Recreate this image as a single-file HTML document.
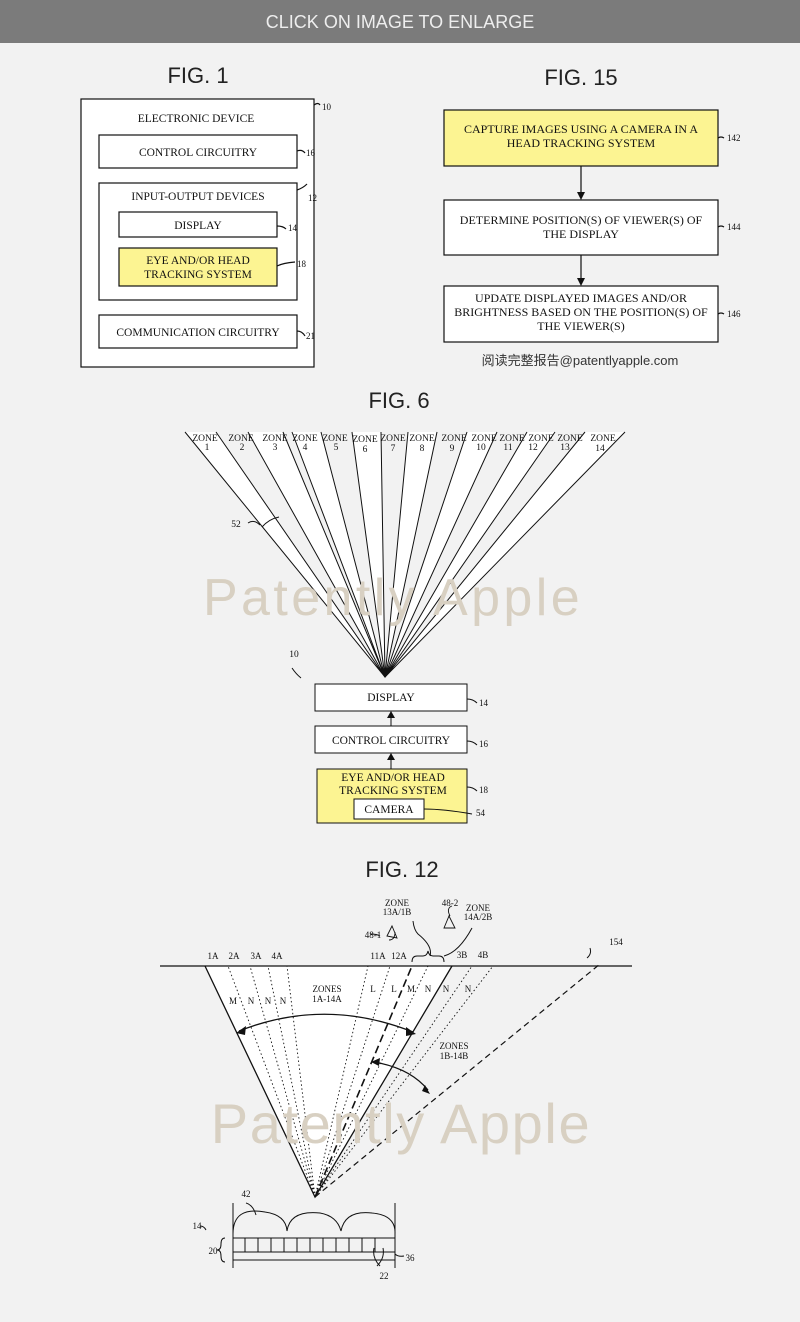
<!DOCTYPE html>
<html><head><meta charset="utf-8"><style>
body{margin:0;background:#f2f2f2;}
svg{display:block}
.s{font-family:"Liberation Serif",serif;font-size:11.5px;fill:#111}
.t{font-family:"Liberation Sans",sans-serif;font-size:22px;fill:#222}
.w{font-family:"Liberation Sans",sans-serif;fill:#d8d0c2}
</style></head><body>
<svg width="800" height="1322" viewBox="0 0 800 1322" xmlns="http://www.w3.org/2000/svg">
<rect x="0" y="0" width="800" height="43" fill="#7b7b7b"/>
<text x="400" y="28" text-anchor="middle" font-family="Liberation Sans,sans-serif" font-size="18" fill="#eee">CLICK ON IMAGE TO ENLARGE</text>
<g stroke="#111" stroke-width="1.2" fill="none">
<rect x="81" y="99" width="233" height="268" fill="#fff"/>
<rect x="99" y="135" width="198" height="33"/>
<rect x="99" y="183" width="198" height="117"/>
<rect x="119" y="212" width="158" height="25"/>
<rect x="119" y="248" width="158" height="38" fill="#fcf492"/>
<rect x="99" y="315" width="198" height="33"/>
<path d="M314 105 q4-3 6 0 M297 151 q5-2 8 2 M297 190 q6-2 10-6 M277 226 q6 0 9 3 M277 266 q6-3 18-4 M297 331 q5 0 8 5"/>
<rect x="444" y="110" width="274" height="56" fill="#fcf492"/>
<rect x="444" y="200" width="274" height="55" fill="#fff"/>
<rect x="444" y="286" width="274" height="56" fill="#fff"/>
<path d="M581 166 V196 M581 255 V282 M718 138 q3-2 6 0 M718 227 q3-2 6 0 M718 314 q3-2 6 0"/>
</g>
<path d="M577 192 L581 200 L585 192Z M577 278 L581 286 L585 278Z" fill="#111"/>
<text class="t" x="198" y="83" text-anchor="middle">FIG. 1</text>
<text class="t" x="581" y="85" text-anchor="middle">FIG. 15</text>
<text class="s" x="196" y="122" text-anchor="middle">ELECTRONIC DEVICE</text>
<text class="s" x="198" y="156" text-anchor="middle">CONTROL CIRCUITRY</text>
<text class="s" x="198" y="200" text-anchor="middle">INPUT-OUTPUT DEVICES</text>
<text class="s" x="198" y="229" text-anchor="middle">DISPLAY</text>
<text class="s" x="198" y="264" text-anchor="middle">EYE AND/OR HEAD</text>
<text class="s" x="198" y="278" text-anchor="middle">TRACKING SYSTEM</text>
<text class="s" x="198" y="336" text-anchor="middle">COMMUNICATION CIRCUITRY</text>
<g class="s"><text x="322" y="110" style="font-size:9px">10</text><text x="306" y="156" style="font-size:9px">16</text><text x="308" y="201" style="font-size:9px">12</text><text x="288" y="231" style="font-size:9px">14</text><text x="297" y="267" style="font-size:9px">18</text><text x="306" y="339" style="font-size:9px">21</text>
<text x="727" y="141" style="font-size:9px">142</text><text x="727" y="230" style="font-size:9px">144</text><text x="727" y="317" style="font-size:9px">146</text></g>
<text class="s" x="581" y="133" text-anchor="middle" style="font-size:12px">CAPTURE IMAGES USING A CAMERA IN A</text>
<text class="s" x="581" y="147" text-anchor="middle" style="font-size:12px">HEAD TRACKING SYSTEM</text>
<text class="s" x="581" y="224" text-anchor="middle" style="font-size:12px">DETERMINE POSITION(S) OF VIEWER(S) OF</text>
<text class="s" x="581" y="238" text-anchor="middle" style="font-size:12px">THE DISPLAY</text>
<text class="s" x="581" y="302" text-anchor="middle" style="font-size:12px">UPDATE DISPLAYED IMAGES AND/OR</text>
<text class="s" x="581" y="316" text-anchor="middle" style="font-size:12px">BRIGHTNESS BASED ON THE POSITION(S) OF</text>
<text class="s" x="581" y="330" text-anchor="middle" style="font-size:12px">THE VIEWER(S)</text>
<text x="580" y="365" text-anchor="middle" font-family="Liberation Sans,Noto Sans CJK SC,sans-serif" font-size="13" fill="#333">阅读完整报告@patentlyapple.com</text>
<text class="t" x="399" y="408" text-anchor="middle">FIG. 6</text>
<g fill="#fff" stroke="none">
<polygon points="385,677 185,432 216,432"/><polygon points="385,677 248,432 283,432"/><polygon points="385,677 292,432 321,432"/><polygon points="385,677 352,432 381,432"/><polygon points="385,677 408,432 437,432"/><polygon points="385,677 467,432 497,432"/><polygon points="385,677 527,432 555,432"/><polygon points="385,677 585,432 625,432"/>
</g>
<g stroke="#111" stroke-width="1" fill="none">
<path d="M385 677 L185 432 M385 677 L216 432 M385 677 L248 432 M385 677 L283 432 M385 677 L292 432 M385 677 L321 432 M385 677 L352 432 M385 677 L381 432 M385 677 L408 432 M385 677 L437 432 M385 677 L467 432 M385 677 L497 432 M385 677 L527 432 M385 677 L555 432 M385 677 L585 432 M385 677 L625 432"/>
<path d="M262 527 q7-8 17-10 M248 523 q6-4 12 2"/>
<rect x="315" y="684" width="152" height="27" fill="#fff"/>
<rect x="315" y="726" width="152" height="27" fill="#fff"/>
<rect x="317" y="769" width="150" height="54" fill="#fcf492"/>
<rect x="354" y="799" width="70" height="20" fill="#fff"/>
<path d="M391 726 V716 M391 769 V758 M467 699 q6 0 10 4 M467 741 q6 0 10 4 M467 787 q6 0 10 4 M424 809 q20 0 48 5 M292 668 q4 6 9 10"/>
</g>
<path d="M387 718 L391 711 L395 718Z M387 760 L391 753 L395 760Z M380 670 L385 678 L391 670Z" fill="#111"/>
<g class="s" style="font-size:9.5px" text-anchor="middle">
<text x="205" y="441">ZONE</text><text x="207" y="450">1</text>
<text x="241" y="441">ZONE</text><text x="242" y="450">2</text>
<text x="275" y="441">ZONE</text><text x="275" y="450">3</text>
<text x="305" y="441">ZONE</text><text x="305" y="450">4</text>
<text x="335" y="441">ZONE</text><text x="336" y="450">5</text>
<text x="365" y="442">ZONE</text><text x="365" y="452">6</text>
<text x="393" y="441">ZONE</text><text x="393" y="451">7</text>
<text x="422" y="441">ZONE</text><text x="422" y="451">8</text>
<text x="454" y="441">ZONE</text><text x="452" y="451">9</text>
<text x="484" y="441">ZONE</text><text x="481" y="450">10</text>
<text x="512" y="441">ZONE</text><text x="508" y="450">11</text>
<text x="541" y="441">ZONE</text><text x="533" y="450">12</text>
<text x="570" y="441">ZONE</text><text x="565" y="450">13</text>
<text x="603" y="441">ZONE</text><text x="600" y="451">14</text>
<text x="236" y="527">52</text><text x="294" y="657">10</text>
</g>
<text class="w" x="393" y="615" text-anchor="middle" font-size="52" letter-spacing="3.4">Patently Apple</text>
<text class="s" x="391" y="701" text-anchor="middle">DISPLAY</text>
<text class="s" x="391" y="744" text-anchor="middle">CONTROL CIRCUITRY</text>
<text class="s" x="393" y="781" text-anchor="middle">EYE AND/OR HEAD</text>
<text class="s" x="393" y="794" text-anchor="middle">TRACKING SYSTEM</text>
<text class="s" x="389" y="813" text-anchor="middle">CAMERA</text>
<g class="s"><text x="479" y="706" style="font-size:9px">14</text><text x="479" y="747" style="font-size:9px">16</text><text x="479" y="793" style="font-size:9px">18</text><text x="476" y="816" style="font-size:9px">54</text></g>
<text class="t" x="402" y="877" text-anchor="middle">FIG. 12</text>
<polygon points="205,966 452,966 315,1197" fill="#fff"/>
<g stroke="#111" fill="none">
<path d="M160 966 H632" stroke-width="1.2"/>
<path d="M205 966 L315 1197 L452 966" stroke-width="1.3"/>
<path d="M315 1197 L600 964" stroke-width="1.2" stroke-dasharray="6,4"/>
<path d="M315 1197 L412 966" stroke-width="1.6" stroke-dasharray="8,4"/>
<g stroke-width="0.9" stroke-dasharray="1.5,2.5">
<path d="M315 1197 L228 966 M315 1197 L250 966 M315 1197 L268 966 M315 1197 L287 966 M315 1197 L368 966 M315 1197 L390 966 M315 1197 L428 966 M315 1197 L472 966 M315 1197 L493 966"/>
</g>
<path d="M239 1031 Q325 997 413 1032" stroke-width="1.3"/>
<path d="M374 1062 Q410 1068 428 1090" stroke-width="1.3"/>
<path d="M412 962 q0-6 5-6 h6 q4 0 5-5 q1 5 5 5 h6 q5 0 5 6 M430 956 q3-10-12-22 q-4-4-5-13 M444 956 q15-4 28-28 M587 958 q5-4 3-10"/>
<path d="M387 936 l5-10 l5 12 z M395 932 q0 8 -6 8 M380 936 q-3-2 -10-2" stroke-width="0.9"/>
<path d="M444 928 l5-12 l6 12 z M450 916 q-4-8 2-10" stroke-width="0.9"/>
<path d="M233 1203 V1268 M395 1203 V1268"/>
<path d="M233 1234 Q233 1206 265 1212 Q286 1215 287 1231 Q290 1210 320 1213 Q337 1216 341 1231 Q345 1210 372 1213 Q396 1215 395 1234"/>
<path d="M233 1238 H395 M233 1252 H395 M233 1260 H395"/>
<path d="M245 1238 V1252 M258 1238 V1252 M271 1238 V1252 M284 1238 V1252 M297 1238 V1252 M310 1238 V1252 M323 1238 V1252 M336 1238 V1252 M349 1238 V1252 M362 1238 V1252 M375 1238 V1252"/>
<path d="M225 1238 q-4 0-4 6 q0 6-4 6 q4 0 4 6 q0 6 4 6"/>
<path d="M383 1248 q2 10 -6 18 M374 1248 q-2 10 6 18 M395 1254 q3 3 9 2 M246 1203 q7 2 10 12 M200 1226 q4 0 6 4"/>
</g>
<path d="M236 1033 L246 1026 L245 1035Z M416 1034 L406 1027 L406 1036Z M371 1062 L380 1058 L379 1066Z M430 1094 L425 1085 L422 1091Z" fill="#111"/>
<g class="s" style="font-size:9px" text-anchor="middle">
<text x="213" y="959">1A</text><text x="234" y="959">2A</text><text x="256" y="959">3A</text><text x="277" y="959">4A</text>
<text x="378" y="959">11A</text><text x="399" y="959">12A</text><text x="462" y="958">3B</text><text x="483" y="958">4B</text>
<text x="397" y="906">ZONE</text><text x="397" y="915">13A/1B</text>
<text x="478" y="911">ZONE</text><text x="478" y="920">14A/2B</text>
<text x="450" y="906">48-2</text><text x="373" y="938">48-1</text><text x="616" y="945">154</text>
<text x="327" y="992">ZONES</text><text x="327" y="1002">1A-14A</text>
<text x="454" y="1049">ZONES</text><text x="454" y="1059">1B-14B</text>
<text x="233" y="1004">M</text><text x="251" y="1004">N</text><text x="268" y="1004">N</text><text x="283" y="1004">N</text>
<text x="373" y="992">L</text><text x="394" y="992">L</text><text x="411" y="992">M</text><text x="428" y="992">N</text><text x="446" y="992">N</text><text x="468" y="992">N</text>
<text x="246" y="1197">42</text><text x="197" y="1229">14</text><text x="213" y="1254">20</text><text x="410" y="1261">36</text><text x="384" y="1279">22</text>
</g>
<text class="w" x="401" y="1143" text-anchor="middle" font-size="56" letter-spacing="1.6">Patently Apple</text>
</svg>
</body></html>
